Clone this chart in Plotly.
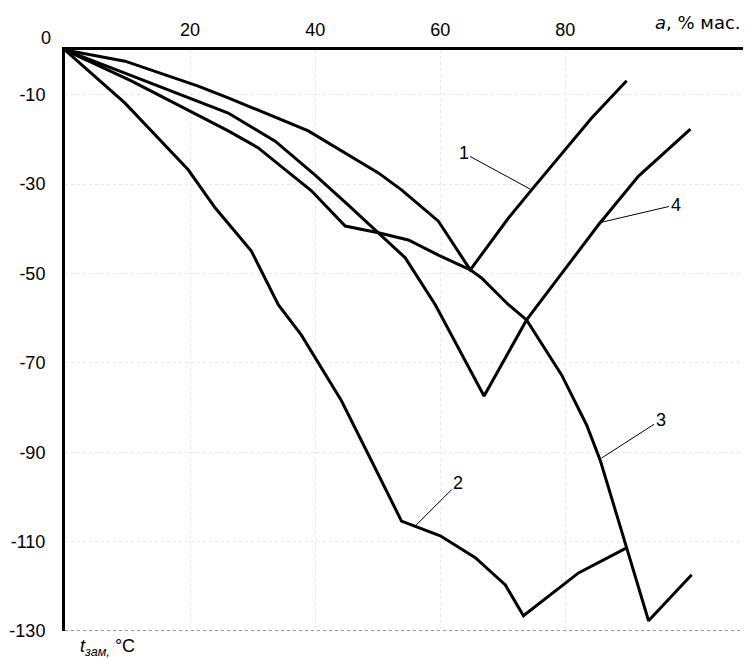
import plotly.graph_objects as go

# concentration a, % mass (x) and freezing temperature, C (y) for each curve
curve1_a = [0, 9.6, 21.3, 26.1, 38.9, 44.2, 50.1, 53.8, 59.7, 64.8, 70.9, 74.6, 80.5, 84.2, 89.8]
curve1_t = [0, -2.5, -8.1, -10.7, -18.1, -22.6, -27.5, -31.3, -38.3, -49.2, -37.6, -31.3, -21.3, -15.2, -6.9]

curve2_a = [0, 9.6, 19.7, 24.0, 29.8, 34.1, 37.8, 44.2, 49.0, 53.8, 60.0, 65.6, 70.4, 73.3, 82.1, 89.8]
curve2_t = [0, -11.9, -26.8, -35.3, -45.0, -57.0, -63.8, -78.5, -91.9, -105.4, -108.7, -113.6, -119.7, -126.6, -117.0, -111.4]

curve3_a = [0, 10.6, 26.1, 30.9, 39.4, 44.8, 50.1, 54.9, 59.7, 64.8, 66.6, 70.9, 73.8, 79.4, 83.4, 85.6, 89.8, 93.3, 100.2]
curve3_t = [0, -6.9, -18.1, -21.9, -31.5, -39.4, -40.9, -42.5, -45.9, -49.2, -51.0, -57.0, -60.4, -72.7, -83.9, -91.9, -111.4, -127.7, -117.4]

curve4_a = [0, 10.6, 26.1, 33.6, 40.0, 45.3, 50.1, 54.4, 59.2, 67.0, 73.8, 82.4, 85.3, 91.7, 100.0]
curve4_t = [0, -5.8, -14.1, -20.4, -28.0, -34.7, -40.9, -46.5, -57.0, -77.4, -60.4, -44.3, -39.1, -28.2, -17.7]

x_ticks = [20, 40, 60, 80]
y_ticks = [-10, -30, -50, -70, -90, -110, -130]
y_tick_text = ["-10", "-30", "-50", "-70", "-90", "-110", "-130"]

# curve labels: (text, point on curve a, t, text offset px)
curve_labels = [
    ("1", 74.6, -31.3, -68, -37),
    ("2", 56.0, -106.5, 43, -43),
    ("3", 85.8, -91.3, 59, -38),
    ("4", 85.3, -38.7, 77, -18),
]

FONT = "Liberation Sans, Arial, sans-serif"

fig = go.Figure()
for xs, ys in [(curve1_a, curve1_t), (curve2_a, curve2_t),
               (curve3_a, curve3_t), (curve4_a, curve4_t)]:
    fig.add_trace(go.Scatter(
        x=xs, y=ys, mode="lines",
        line=dict(color="black", width=3),
        showlegend=False, hoverinfo="skip",
    ))

for text, xa, ya, ax, ay in curve_labels:
    fig.add_annotation(
        x=xa, y=ya, text=text, showarrow=True, arrowhead=0,
        arrowwidth=1, arrowcolor="black", ax=ax, ay=ay, standoff=0,
        font=dict(size=18, color="black", family=FONT),
    )

# right and bottom frame, lighter than the axes
fig.add_shape(type="line", x0=110, x1=110, y0=0, y1=-130, xref="x", yref="y",
              line=dict(color="#777777", width=1.5, dash="dot"))
fig.add_shape(type="line", x0=0, x1=110, y0=-130, y1=-130, xref="x", yref="y",
              line=dict(color="#777777", width=1.5, dash="dot"))

fig.add_annotation(xref="paper", yref="paper", x=0, y=1, text="0",
                   showarrow=False, xanchor="center", yanchor="middle",
                   xshift=-19, yshift=12,
                   font=dict(size=18, color="black", family=FONT))
fig.add_annotation(xref="paper", yref="paper", x=1, y=1,
                   text="<i>a</i>, % мас.", showarrow=False,
                   xanchor="right", yanchor="middle", xshift=-10, yshift=28,
                   font=dict(size=18, color="black", family="DejaVu Sans"))
fig.add_annotation(xref="paper", yref="paper", x=0, y=0,
                   text="<i>t</i><sub><i>зам,</i></sub> °C", showarrow=False,
                   xanchor="left", yanchor="bottom", xshift=13, yshift=-30,
                   font=dict(size=18, color="black", family=FONT))

fig.update_xaxes(
    range=[0, 110], side="top", tickvals=x_ticks, automargin=False,
    showline=True, linecolor="black", linewidth=3,
    showgrid=True, gridcolor="#e8e8e8", griddash="dot", gridwidth=1,
    zeroline=False, ticks="", ticklabelstandoff=4,
    tickfont=dict(size=18, color="black", family=FONT),
)
fig.update_yaxes(
    range=[-130, 0], tickvals=y_ticks, ticktext=y_tick_text, automargin=False,
    showline=True, linecolor="black", linewidth=3,
    showgrid=True, gridcolor="#e8e8e8", griddash="dot", gridwidth=1,
    zeroline=False, ticks="", ticklabelstandoff=13,
    tickfont=dict(size=18, color="black", family=FONT),
)
fig.update_layout(
    width=751, height=659,
    margin=dict(l=57, r=6, t=42, b=36),
    plot_bgcolor="white", paper_bgcolor="white",
)

fig.write_html("out.html")
